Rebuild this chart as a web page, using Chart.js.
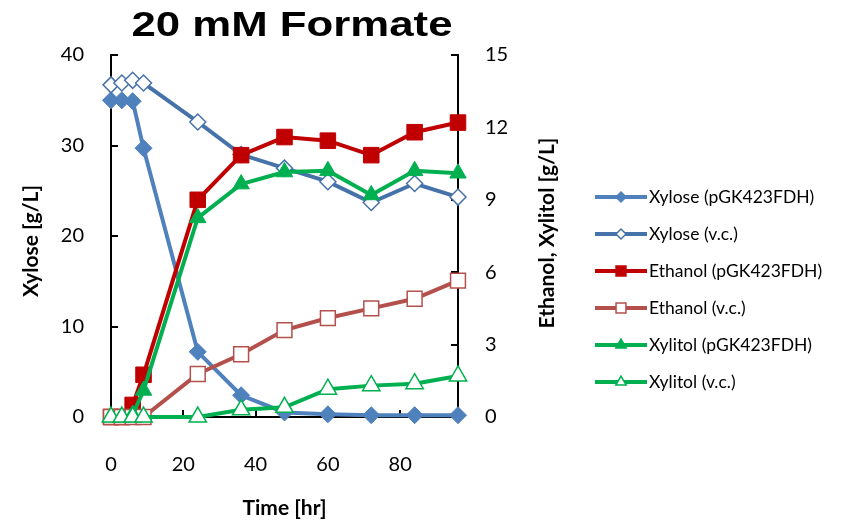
<!DOCTYPE html>
<html>
<head>
<meta charset="utf-8">
<script src="https://cdn.jsdelivr.net/npm/chart.js@4"></script>
<style>
  html, body { margin: 0; padding: 0; background: #fff; }
  #wrap { width: 842px; height: 521px; }
</style>
</head>
<body>
<div id="wrap"><canvas id="chart" width="842" height="521"></canvas></div>
<script>
// sampling times (hr)
const times = [0, 3, 6, 9, 24, 36, 48, 60, 72, 84, 96]

// xylose, left axis [g/L]
const xylosePGK = [35.0, 35.0, 34.9, 29.7, 7.2, 2.4, 0.5, 0.3, 0.2, 0.2, 0.2]
const xyloseVC = [36.7, 36.9, 37.2, 36.9, 32.6, 29.0, 27.5, 26.0, 23.7, 25.8, 24.3]

// ethanol / xylitol, right axis [g/L]
const ethanolPGK = [0, 0, 0.5, 1.75, 9.0, 10.85, 11.6, 11.45, 10.85, 11.8, 12.2]
const ethanolVC = [0, 0, 0, 0, 1.78, 2.6, 3.6, 4.1, 4.5, 4.9, 5.65]
const xylitolPGK = [0, 0, 0.1, 1.1, 8.25, 9.65, 10.15, 10.2, 9.2, 10.2, 10.1]
const xylitolVC = [0, 0, 0, 0, 0, 0.3, 0.4, 1.15, 1.3, 1.38, 1.7]

const seriesLabels = [
    'Xylose (pGK423FDH)', 'Xylose (v.c.)',
    'Ethanol (pGK423FDH)', 'Ethanol (v.c.)',
    'Xylitol (pGK423FDH)', 'Xylitol (v.c.)'
]

const xTicks = [0, 20, 40, 60, 80]
const yTicks = [0, 10, 20, 30, 40]
const y1Ticks = [0, 3, 6, 9, 12, 15]

const BLUE1 = '#4F81BD'
const BLUE2 = '#4672AA'
const RED1 = '#C00000'
const RED2 = '#B4504B'
const GREEN = '#00B050'
const FONT = "Lato, 'Liberation Sans', sans-serif"

const toPoints = (vals) => times.map((t, i) => ({x: t, y: vals[i]}))

const makeSet = (label, vals, axis, color, shape, radius, open, order) => ({
    label,
    data: toPoints(vals),
    yAxisID: axis,
    borderColor: color,
    borderWidth: 4,
    pointStyle: shape,
    pointRadius: radius,
    pointHoverRadius: radius,
    pointBackgroundColor: open ? '#ffffff' : color,
    pointBorderColor: color,
    pointBorderWidth: open ? 1.5 : 1,
    tension: 0,
    clip: false,
    order,
    _open: open
})

const datasets = [
    makeSet(seriesLabels[0], xylosePGK, 'y', BLUE1, 'rectRot', 8.5, false, 5),
    makeSet(seriesLabels[1], xyloseVC, 'y', BLUE2, 'rectRot', 8, true, 4),
    makeSet(seriesLabels[2], ethanolPGK, 'y1', RED1, 'rect', 11, false, 3),
    makeSet(seriesLabels[3], ethanolVC, 'y1', RED2, 'rect', 10.5, true, 2),
    makeSet(seriesLabels[4], xylitolPGK, 'y1', GREEN, 'triangle', 9.5, false, 1),
    makeSet(seriesLabels[5], xylitolVC, 'y1', GREEN, 'triangle', 10, true, 0)
]

// small marker for the legend
const drawMarker = (ctx, shape, x, y, r, fill, stroke) => {
    ctx.beginPath()
    if (shape === 'rectRot') {
        ctx.moveTo(x, y - r); ctx.lineTo(x + r, y); ctx.lineTo(x, y + r); ctx.lineTo(x - r, y)
    } else if (shape === 'rect') {
        const h = r * Math.SQRT1_2
        ctx.rect(x - h, y - h, 2 * h, 2 * h)
    } else {
        const a = 2 * Math.PI / 3
        ctx.moveTo(x, y - r)
        ctx.lineTo(x + Math.sin(a) * r, y - Math.cos(a) * r)
        ctx.lineTo(x + Math.sin(2 * a) * r, y - Math.cos(2 * a) * r)
    }
    ctx.closePath()
    ctx.fillStyle = fill
    ctx.fill()
    ctx.lineWidth = 1.5
    ctx.strokeStyle = stroke
    ctx.stroke()
}

const extrasPlugin = {
    id: 'extras',
    afterDraw(chart) {
        const ctx = chart.ctx
        ctx.save()

        // chart title
        ctx.fillStyle = '#000'
        ctx.font = "bold 35px 'Liberation Sans', Arial, sans-serif"
        ctx.textAlign = 'center'
        ctx.textBaseline = 'middle'
        ctx.save()
        ctx.translate(292, 26)
        ctx.scale(1.25, 1)
        ctx.fillText('20 mM Formate', 0, 0)
        ctx.restore()

        // axis titles, both reading upward
        ctx.font = 'bold 21px ' + FONT
        ctx.save()
        ctx.translate(31, 241)
        ctx.rotate(-Math.PI / 2)
        ctx.fillText('Xylose [g/L]', 0, 0)
        ctx.restore()

        ctx.save()
        ctx.translate(547, 233)
        ctx.rotate(-Math.PI / 2)
        ctx.fillText('Ethanol, Xylitol [g/L]', 0, 0)
        ctx.restore()

        // legend
        ctx.font = '17.5px ' + FONT
        ctx.textAlign = 'left'
        chart.data.datasets.forEach((ds, i) => {
            const ly = 197 + i * 37
            ctx.beginPath()
            ctx.moveTo(595, ly)
            ctx.lineTo(647, ly)
            ctx.lineWidth = 4
            ctx.strokeStyle = ds.borderColor
            ctx.stroke()
            const r = ds.pointStyle === 'triangle' ? 6 : (ds.pointStyle === 'rect' ? 7 : 5)
            drawMarker(ctx, ds.pointStyle, 621, ly, r, ds._open ? '#fff' : ds.borderColor, ds.borderColor)
            ctx.fillStyle = '#000'
            ctx.fillText(ds.label, 649, ly)
        })
        ctx.restore()
    }
}

const axisGrid = {
    display: true,
    drawOnChartArea: false,
    drawTicks: true,
    tickLength: -7,
    color: '#000',
    lineWidth: 2
}
const axisBorder = {display: true, color: '#000', width: 2}

new Chart(document.getElementById('chart'), {
    type: 'line',
    data: {datasets},
    options: {
        responsive: false,
        animation: false,
        devicePixelRatio: 1,
        layout: {padding: {left: 0, top: 55, right: 264, bottom: 0}},
        plugins: {
            legend: {display: false},
            title: {display: false},
            tooltip: {enabled: false}
        },
        scales: {
            x: {
                type: 'linear',
                min: 0,
                max: 96,
                afterBuildTicks: (s) => { s.ticks = xTicks.map(v => ({value: v})) },
                afterFit: (s) => { s.height = 104 },
                ticks: {
                    includeBounds: false,
                    padding: 43,
                    color: '#000',
                    font: {family: FONT, size: 20}
                },
                grid: axisGrid,
                border: axisBorder,
                title: {
                    display: true,
                    text: 'Time [hr]',
                    color: '#000',
                    font: {family: FONT, size: 21, weight: 'bold'},
                    padding: {top: 0, bottom: 0}
                }
            },
            y: {
                type: 'linear',
                position: 'left',
                min: 0,
                max: 40,
                afterBuildTicks: (s) => { s.ticks = yTicks.map(v => ({value: v})) },
                afterFit: (s) => { s.width = 111 },
                ticks: {
                    padding: 34,
                    color: '#000',
                    font: {family: FONT, size: 20}
                },
                grid: axisGrid,
                border: axisBorder
            },
            y1: {
                type: 'linear',
                position: 'right',
                min: 0,
                max: 15,
                afterBuildTicks: (s) => { s.ticks = y1Ticks.map(v => ({value: v})) },
                afterFit: (s) => { s.width = 120 },
                ticks: {
                    padding: 34,
                    color: '#000',
                    font: {family: FONT, size: 20}
                },
                grid: axisGrid,
                border: axisBorder
            }
        }
    },
    plugins: [extrasPlugin]
})
</script>
</body>
</html>
